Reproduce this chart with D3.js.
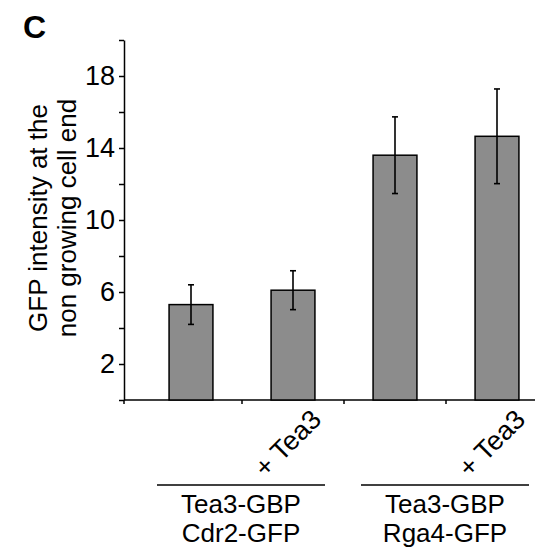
<!DOCTYPE html>
<html>
<head>
<meta charset="utf-8">
<script src="https://cdn.jsdelivr.net/npm/d3@7"></script>
<style>
  body { margin: 0; background: #fff; }
  svg { display: block; font-family: "Liberation Sans", Arial, Helvetica, sans-serif; }
</style>
</head>
<body>
<div id="chart"></div>
<script>
// data
var categories = ["Cdr2", "Cdr2 + Tea3", "Rga4", "Rga4 + Tea3"];
var tickLabels = ["", "+ Tea3", "", "+ Tea3"];
var means = [5.3, 6.1, 13.6, 14.65];
var errors = [1.1, 1.08, 2.13, 2.63];
var groupLabels = [["Tea3-GBP", "Cdr2-GFP"], ["Tea3-GBP", "Rga4-GFP"]];
var yTicks = [0, 2, 4, 6, 8, 10, 12, 14, 16, 18, 20];
var yLabelled = [2, 6, 10, 14, 18];

var w = 535, h = 547;
var svg = d3.select("#chart").append("svg")
    .attr("width", w)
    .attr("height", h);

var y = d3.scaleLinear().domain([0, 20]).range([400, 40]);
var x = d3.scaleBand()
    .domain(categories)
    .range([140, 548])
    .paddingInner(0.57)
    .paddingOuter(0.285);

// panel letter
svg.append("text")
    .attr("x", 23).attr("y", 38)
    .attr("font-size", 32).attr("font-weight", "bold")
    .text("C");

// y axis
var yAxis = svg.append("g")
    .attr("transform", "translate(124,0)")
    .call(d3.axisLeft(y)
        .tickValues(yTicks)
        .tickSize(5)
        .tickSizeOuter(0)
        .tickPadding(4)
        .tickFormat(function(d) { return yLabelled.indexOf(d) >= 0 ? d : ""; }));
yAxis.selectAll("path, line").attr("stroke", "#000").attr("stroke-width", 1.5);
yAxis.selectAll("text").attr("font-size", 27).attr("fill", "#000")
    .attr("font-family", "Liberation Sans, Arial, sans-serif");

// y title
var title = svg.append("text")
    .attr("transform", "translate(47,218) rotate(-90)")
    .attr("text-anchor", "middle")
    .attr("font-size", 26);
title.append("tspan").attr("x", 0).attr("dy", 0).text("GFP intensity at the");
title.append("tspan").attr("x", 0).attr("dy", 29).text("non growing cell end");

// x axis line and separator ticks
svg.append("line")
    .attr("x1", 124).attr("x2", 535)
    .attr("y1", y(0)).attr("y2", y(0))
    .attr("stroke", "#000").attr("stroke-width", 1.5);

var sepX = [124].concat(categories.slice(1).map(function(c) {
  return x(c) - x.step() * x.paddingInner() / 2;
}));
svg.selectAll(".sep")
    .data(sepX)
    .enter()
    .append("line")
    .attr("x1", function(d) { return d; })
    .attr("x2", function(d) { return d; })
    .attr("y1", y(0))
    .attr("y2", y(0) + 4)
    .attr("stroke", "#000").attr("stroke-width", 1.5);

// bars
svg.selectAll(".bar")
    .data(means)
    .enter()
    .append("rect")
    .attr("x", function(d, i) { return x(categories[i]); })
    .attr("y", function(d) { return y(d); })
    .attr("width", x.bandwidth())
    .attr("height", function(d) { return y(0) - y(d); })
    .attr("fill", "#8c8c8c")
    .attr("stroke", "#000")
    .attr("stroke-width", 1.5);

// error bars
var eb = svg.selectAll(".err")
    .data(means)
    .enter()
    .append("g")
    .attr("stroke", "#000")
    .attr("stroke-width", 1.6);
eb.append("line")
    .attr("x1", function(d, i) { return x(categories[i]) + x.bandwidth() / 2; })
    .attr("x2", function(d, i) { return x(categories[i]) + x.bandwidth() / 2; })
    .attr("y1", function(d, i) { return y(d + errors[i]); })
    .attr("y2", function(d, i) { return y(d - errors[i]); });
[1, -1].forEach(function(sign) {
  eb.append("line")
      .attr("x1", function(d, i) { return x(categories[i]) + x.bandwidth() / 2 - 3; })
      .attr("x2", function(d, i) { return x(categories[i]) + x.bandwidth() / 2 + 3; })
      .attr("y1", function(d, i) { return y(d + sign * errors[i]); })
      .attr("y2", function(d, i) { return y(d + sign * errors[i]); });
});

// rotated category labels
svg.selectAll(".cat")
    .data(tickLabels)
    .enter()
    .append("text")
    .attr("transform", function(d, i) {
      return "translate(" + (x(categories[i]) + x.bandwidth() + 8) + "," + (y(0) + 21) + ") rotate(-45)";
    })
    .attr("text-anchor", "end")
    .attr("font-size", 27)
    .text(function(d) { return d; });

// group brackets and labels
groupLabels.forEach(function(lines, g) {
  var a = x(categories[g * 2]) + x.bandwidth() / 2;
  var b = x(categories[g * 2 + 1]) + x.bandwidth() / 2;
  var cx = (a + b) / 2 - 1;
  svg.append("line")
      .attr("x1", cx - 84).attr("x2", cx + 84)
      .attr("y1", 485).attr("y2", 485)
      .attr("stroke", "#000").attr("stroke-width", 1.5);
  lines.forEach(function(t, k) {
    svg.append("text")
        .attr("x", cx).attr("y", 513 + k * 29)
        .attr("text-anchor", "middle")
        .attr("font-size", 26)
        .text(t);
  });
});
</script>
</body>
</html>
